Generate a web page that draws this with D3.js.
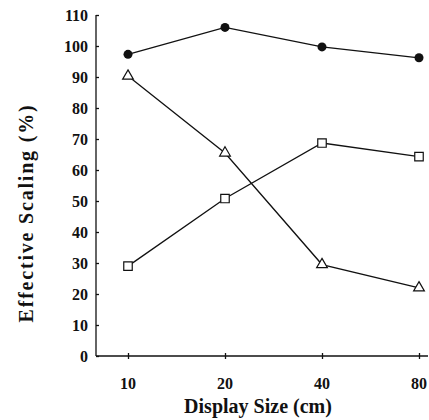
<!DOCTYPE html>
<html>
<head>
<meta charset="utf-8">
<script src="https://cdn.jsdelivr.net/npm/d3@7"></script>
<style>
  body { margin: 0; background: #fff; }
  text { font-family: "Liberation Serif", "Times New Roman", serif; font-weight: bold; fill: #111; }
</style>
</head>
<body>
<script>
//chart values
var sizes = ["10", "20", "40", "80"];
var circleVals = [97.3, 106, 99.7, 96.2];
var triangleVals = [90.3, 65.5, 29.5, 22];
var squareVals = [29, 50.8, 68.7, 64.3];
var yTicks = [0, 10, 20, 30, 40, 50, 60, 70, 80, 90, 100, 110];

var width = 429,
    height = 420;

var svg = d3.select("body")
    .append("svg")
    .attr("width", width)
    .attr("height", height);

//axis frame
var plotLeft = 96, plotRight = 428, plotTop = 15, plotBottom = 356;

var x = d3.scalePoint()
    .domain(sizes)
    .range([128, 419]);

var y = d3.scaleLinear()
    .domain([0, 110])
    .range([plotBottom, plotTop]);

//y axis, ticks pointing inward
var yAxis = svg.append("g")
    .attr("transform", "translate(" + plotLeft + ",0)")
    .call(d3.axisRight(y).tickValues(yTicks).tickSize(3).tickFormat(""));
yAxis.select(".domain").attr("d", "M0," + plotTop + "V" + plotBottom);

svg.selectAll(".ylab")
    .data(yTicks)
    .enter()
    .append("text")
    .attr("class", "ylab")
    .attr("x", 88)
    .attr("y", function(d){ return y(d) + 5.5; })
    .attr("text-anchor", "end")
    .style("font-size", "16px")
    .text(function(d){ return d; });

//x axis, ticks crossing the line
var xAxis = svg.append("g")
    .attr("transform", "translate(0," + plotBottom + ")")
    .call(d3.axisBottom(x).tickSize(0).tickFormat(""));
xAxis.select(".domain").attr("d", "M" + plotLeft + ",0H" + plotRight);
xAxis.selectAll(".tick line").attr("y1", -3).attr("y2", 3);

svg.selectAll(".xlab")
    .data(sizes)
    .enter()
    .append("text")
    .attr("class", "xlab")
    .attr("x", function(d){ return x(d); })
    .attr("y", 389)
    .attr("text-anchor", "middle")
    .style("font-size", "16px")
    .text(function(d){ return d; });

svg.selectAll("path.domain, .tick line")
    .attr("stroke", "#111")
    .attr("stroke-width", 1.3);

//axis titles
svg.append("text")
    .attr("x", 258)
    .attr("y", 413)
    .attr("text-anchor", "middle")
    .style("font-size", "20px")
    .text("Display Size (cm)");

svg.append("text")
    .attr("transform", "translate(33,213) rotate(-90)")
    .attr("text-anchor", "middle")
    .style("font-size", "20px")
    .style("letter-spacing", "1.8px")
    .text("Effective Scaling (%)");

//series lines
var line = d3.line()
    .x(function(d, i){ return x(sizes[i]); })
    .y(function(d){ return y(d); });

[circleVals, triangleVals, squareVals].forEach(function(vals){
    svg.append("path")
        .datum(vals)
        .attr("d", line)
        .attr("fill", "none")
        .attr("stroke", "#111")
        .attr("stroke-width", 1.3);
});

//markers
svg.selectAll(".circ")
    .data(circleVals)
    .enter()
    .append("circle")
    .attr("cx", function(d, i){ return x(sizes[i]); })
    .attr("cy", function(d){ return y(d); })
    .attr("r", 4.5)
    .attr("fill", "#111");

svg.selectAll(".sq")
    .data(squareVals)
    .enter()
    .append("path")
    .attr("d", d3.symbol().type(d3.symbolSquare).size(72))
    .attr("transform", function(d, i){ return "translate(" + x(sizes[i]) + "," + y(d) + ")"; })
    .attr("fill", "#fff")
    .attr("stroke", "#111")
    .attr("stroke-width", 1.2);

svg.selectAll(".tri")
    .data(triangleVals)
    .enter()
    .append("path")
    .attr("d", d3.symbol().type(d3.symbolTriangle).size(50))
    .attr("transform", function(d, i){ return "translate(" + x(sizes[i]) + "," + y(d) + ")"; })
    .attr("fill", "#fff")
    .attr("stroke", "#111")
    .attr("stroke-width", 1.2);
</script>
</body>
</html>
